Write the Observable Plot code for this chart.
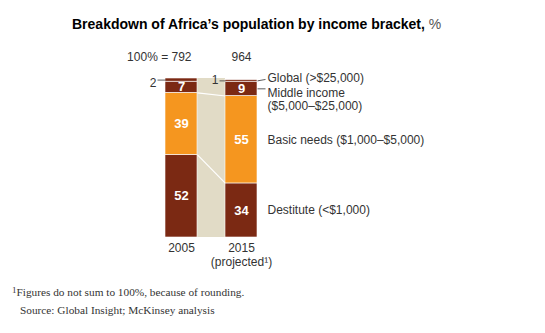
<!DOCTYPE html>
<html>
<head>
<meta charset="utf-8">
<script src="https://cdn.jsdelivr.net/npm/d3@7"></script>
<script src="https://cdn.jsdelivr.net/npm/@observablehq/plot@0.6"></script>
<style>
  body { margin: 0; background: #fff; }
  #wrap { position: relative; width: 545px; height: 333px; font-family: "Liberation Sans", Arial, sans-serif; }
  #title { position: absolute; left: 72px; top: 16px; font-size: 14px; font-weight: bold; color: #000; white-space: nowrap; line-height: 17px; }
  #title span { font-weight: normal; color: #555; }
  #chart { position: absolute; left: 0; top: 36px; }
  #foot { position: absolute; left: 12px; top: 283px; font-family: "Liberation Serif", serif; font-size: 11.3px; color: #333; line-height: 18px; white-space: nowrap; }
  #foot sup { font-size: 9px; vertical-align: 3px; line-height: 0; }
</style>
</head>
<body>
<div id="wrap">
  <div id="title">Breakdown of Africa’s population by income bracket, <span>%</span></div>
  <div id="chart"></div>
  <div id="foot"><sup>1</sup>Figures do not sum to 100%, because of rounding.<br><span style="padding-left:8px">Source: Global Insight; McKinsey analysis</span></div>
</div>
<script>
const years = ["2005", "2015"];
const yearLabels = ["2005", "2015\n(projected¹)"];
const totals = [792, 964];
const brackets = ["Destitute (<$1,000)", "Basic needs ($1,000–$5,000)", "Middle income\n($5,000–$25,000)", "Global (>$25,000)"];
const values2005 = [52, 39, 7, 2];
const values2015 = [34, 55, 9, 1];
const colors = ["#7b2913", "#f5961f", "#7b2913", "#7b2913"];

const series = [values2005, values2015];
const rows = [];
series.forEach((vals, i) => {
  let c = 0;
  vals.forEach((v, k) => {
    rows.push({i, k, value: v, y1: c, y2: c + v, mid: c + v / 2, bracket: brackets[k]});
    c += v;
  });
});
const cum = series.map(vals => d3.cumsum(vals));

const unit = 60;          // px per year step
const hw = 16 / unit;     // bar half-width
const px = 1 / unit;

const yearRows = years.map((y, i) => ({i, label: yearLabels[i], total: totals[i]}));
const connectors = [0, 1].map(k => ({k, a: cum[0][k], b: cum[1][k]}));
const r2015 = rows.filter(d => d.i === 1);
const r2005 = rows.filter(d => d.i === 0);

const chart = Plot.plot({
  width: 545,
  height: 245,
  marginLeft: 181,
  marginRight: 304,
  marginTop: 42,
  marginBottom: 44,
  x: {type: "linear", domain: [0, 1], axis: null},
  y: {domain: [0, 100], axis: null},
  style: {fontFamily: "Liberation Sans, Arial, sans-serif", fontSize: "12px", color: "#333", background: "#fff", overflow: "visible"},
  marks: [
    // beige connector band
    Plot.rect([{}], {x1: hw, x2: 1 - hw, y1: 0, y2: 100, fill: "#e1dbc6"}),
    Plot.link(connectors, {x1: hw, x2: 1 - hw, y1: "a", y2: "b", stroke: "#fff", strokeWidth: 1.2, curve: "linear"}),
    // bars
    Plot.rect(rows, {x1: d => d.i - hw, x2: d => d.i + hw, y1: "y1", y2: "y2", fill: d => colors[d.k], stroke: "#fff", strokeWidth: 0.6}),
    // value labels
    Plot.text(rows.filter(d => d.k < 3), {x: "i", y: "mid", text: d => String(d.value), fill: "#fff", fontWeight: "bold", fontSize: 13}),
    // small global labels with leaders
    Plot.link(r2005.filter(d => d.k === 3), {x1: d => d.i - hw - 8 * px, x2: d => d.i - hw, y1: "mid", y2: "mid", stroke: "#333", strokeWidth: 0.8, curve: "linear"}),
    Plot.text(r2005.filter(d => d.k === 3), {x: d => d.i - hw - 9 * px, y: "mid", dy: 3, text: d => String(d.value), textAnchor: "end", fill: "#333", fontSize: 12}),
    Plot.link(r2015.filter(d => d.k === 3), {x1: d => d.i - hw - 6 * px, x2: d => d.i - hw, y1: "mid", y2: "mid", stroke: "#333", strokeWidth: 0.8, curve: "linear"}),
    Plot.text(r2015.filter(d => d.k === 3), {x: d => d.i - hw - 7 * px, y: "mid", dy: -1, text: d => String(d.value), textAnchor: "end", fill: "#333", fontSize: 12}),
    // right-side bracket labels
    Plot.link(r2015.filter(d => d.k >= 2), {x1: d => d.i + hw, x2: d => d.i + hw + 8 * px, y1: "mid", y2: d => d.mid + (d.k === 3 ? 0.9 : 0), stroke: "#333", strokeWidth: 0.8, curve: "linear"}),
    Plot.text(r2015.filter(d => d.k === 3), {x: d => d.i + hw + 10 * px, y: "mid", dy: -3, text: "bracket", textAnchor: "start", fill: "#333", fontSize: 12}),
    Plot.text(r2015.filter(d => d.k === 2), {x: d => d.i + hw + 10 * px, y: "mid", dy: -1, text: "bracket", textAnchor: "start", lineAnchor: "top", lineHeight: 1.1, fill: "#333", fontSize: 12}),
    Plot.text(r2015.filter(d => d.k < 2), {x: d => d.i + hw + 10 * px, y: "mid", text: "bracket", textAnchor: "start", fill: "#333", fontSize: 12}),
    // totals
    Plot.text(yearRows.filter(d => d.i === 0), {x: "i", y: 100, dy: -21, dx: 10, text: d => `100% = ${d.total}`, textAnchor: "end", fill: "#333", fontSize: 12}),
    Plot.text(yearRows.filter(d => d.i > 0), {x: "i", y: 100, dy: -21, text: d => String(d.total), fill: "#333", fontSize: 12}),
    // year labels
    Plot.text(yearRows, {x: "i", y: 0, dy: 5, text: "label", lineAnchor: "top", lineHeight: 1.15, fill: "#333", fontSize: 12})
  ]
});
document.getElementById("chart").appendChild(chart);
</script>
</body>
</html>
